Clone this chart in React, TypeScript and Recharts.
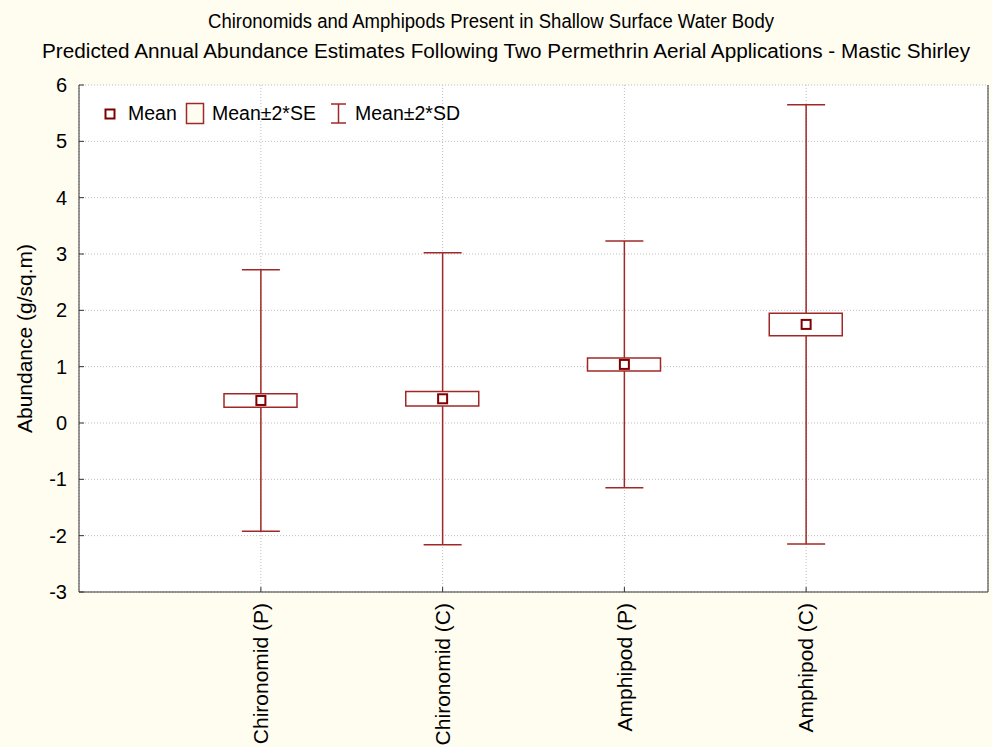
import {
  ComposedChart,
  XAxis,
  YAxis,
  CartesianGrid,
  Scatter,
  Bar,
  ErrorBar,
  Legend,
} from "recharts";

const categories = ["Chironomid (P)", "Chironomid (C)", "Amphipod (P)", "Amphipod (C)"];
const means = [0.4, 0.43, 1.04, 1.75];
const twoSE = [0.12, 0.13, 0.115, 0.2];
const twoSD = [2.32, 2.59, 2.19, 3.9];
const yTicks = [-3, -2, -1, 0, 1, 2, 3, 4, 5, 6];

const titleLines = [
  "Chironomids and Amphipods Present in Shallow Surface Water Body",
  "Predicted Annual Abundance Estimates Following Two Permethrin Aerial Applications - Mastic Shirley",
];

const data = categories.map((name, i) => ({
  name,
  mean: means[i],
  se: [means[i] - twoSE[i], means[i] + twoSE[i]],
  sd: twoSD[i],
}));

const FONT = "'Liberation Sans', Arial, sans-serif";
const RED = "#a02828";
const DARK_RED = "#800000";
const FRAME = "#333333";

function LeftTick({ x, y, payload }: any) {
  return (
    <g>
      <line x1={x} x2={x + 5} y1={y} y2={y} stroke={FRAME} />
      <text x={x - 12} y={y} dy="0.35em" textAnchor="end" fontSize={20} fill="#000">
        {payload.value}
      </text>
    </g>
  );
}

function RightTick({ x, y }: any) {
  return <line x1={x - 5} x2={x} y1={y} y2={y} stroke={FRAME} />;
}

function BottomTick({ x, y, payload }: any) {
  const ty = y + 11;
  return (
    <g>
      <line x1={x} x2={x} y1={y} y2={y - 5} stroke={FRAME} />
      <text
        x={x}
        y={ty}
        dy="0.35em"
        textAnchor="end"
        fontSize={21}
        fill="#000"
        transform={`rotate(-90 ${x} ${ty})`}
      >
        {payload.value}
      </text>
    </g>
  );
}

function MeanMarker({ cx, cy }: any) {
  return (
    <rect
      x={cx - 4.5}
      y={cy - 4.5}
      width={9}
      height={9}
      fill="#fff"
      stroke={DARK_RED}
      strokeWidth={2}
    />
  );
}

function LegendContent() {
  return (
    <svg width={400} height={30} style={{ fontFamily: FONT }}>
      <rect x={9.5} y={11.5} width={9} height={9} fill="#fff" stroke={DARK_RED} strokeWidth={2} />
      <text x={32} y={22} fontSize={19.5} fill="#000">Mean</text>
      <rect x={90.5} y={5.5} width={17} height={20} fill="#fffcf0" stroke={RED} strokeWidth={1.5} />
      <text x={116} y={22} fontSize={19.5} fill="#000">Mean±2*SE</text>
      <line x1={235} x2={250} y1={6} y2={6} stroke={RED} strokeWidth={1.5} />
      <line x1={242.5} x2={242.5} y1={6} y2={25} stroke={RED} strokeWidth={1.5} />
      <line x1={235} x2={250} y1={25} y2={25} stroke={RED} strokeWidth={1.5} />
      <text x={259} y={22} fontSize={19.5} fill="#000">Mean±2*SD</text>
    </svg>
  );
}

export default function App() {
  return (
    <div
      style={{
        position: "absolute",
        left: 0,
        top: 0,
        width: 992,
        height: 747,
        background: "#fffcf0",
        fontFamily: FONT,
      }}
    >
      <svg
        width={992}
        height={80}
        style={{ position: "absolute", left: 0, top: 0, fontFamily: FONT }}
      >
        <text x={491} y={28} textAnchor="middle" fontSize={20} textLength={566} lengthAdjust="spacingAndGlyphs">
          {titleLines[0]}
        </text>
        <text x={506} y={58} textAnchor="middle" fontSize={20} textLength={928} lengthAdjust="spacingAndGlyphs">
          {titleLines[1]}
        </text>
      </svg>
      <ComposedChart
        width={992}
        height={747}
        data={data}
        margin={{ top: 85, right: 0, bottom: 0, left: 0 }}
      >
        <CartesianGrid stroke="#bdbdbd" strokeDasharray="1 2" fill="#ffffff" />
        <XAxis
          dataKey="name"
          height={155}
          interval={0}
          padding={{ left: 91, right: 91 }}
          tickSize={0}
          tickMargin={0}
          tick={<BottomTick />}
          axisLine={{ stroke: FRAME }}
        />
        <XAxis
          xAxisId="top"
          orientation="top"
          dataKey="name"
          height={0}
          tick={false}
          tickLine={false}
          axisLine={{ stroke: FRAME }}
        />
        <YAxis
          type="number"
          width={79}
          domain={[-3, 6]}
          ticks={yTicks}
          interval={0}
          tickSize={0}
          tickMargin={0}
          tick={<LeftTick />}
          axisLine={{ stroke: FRAME }}
          label={{
            content: ({ viewBox }: any) => {
              const cy = viewBox.y + viewBox.height / 2;
              return (
                <text
                  x={25}
                  y={cy}
                  dy="0.35em"
                  textAnchor="middle"
                  fontSize={21}
                  fill="#000"
                  transform={`rotate(-90 25 ${cy})`}
                >
                  Abundance (g/sq.m)
                </text>
              );
            },
          }}
        />
        <YAxis
          yAxisId="right"
          orientation="right"
          type="number"
          width={4}
          domain={[-3, 6]}
          ticks={yTicks}
          interval={0}
          tickSize={0}
          tickMargin={0}
          tick={<RightTick />}
          axisLine={{ stroke: FRAME }}
        />
        <Legend
          layout="vertical"
          verticalAlign="middle"
          align="center"
          content={<LegendContent />}
          wrapperStyle={{ left: 96, top: 98, width: 400, height: 30 }}
        />
        <Scatter dataKey="mean" shape={() => <g />} isAnimationActive={false} zIndex={610}>
          <ErrorBar dataKey="sd" direction="y" width={19} stroke={RED} strokeWidth={1.5} isAnimationActive={false} />
        </Scatter>
        <Bar
          dataKey="se"
          barSize={73}
          fill="#ffffff"
          stroke={RED}
          strokeWidth={1.5}
          isAnimationActive={false}
          zIndex={650}
        />
        <Scatter dataKey="mean" shape={<MeanMarker />} isAnimationActive={false} zIndex={700} />
      </ComposedChart>
    </div>
  );
}
